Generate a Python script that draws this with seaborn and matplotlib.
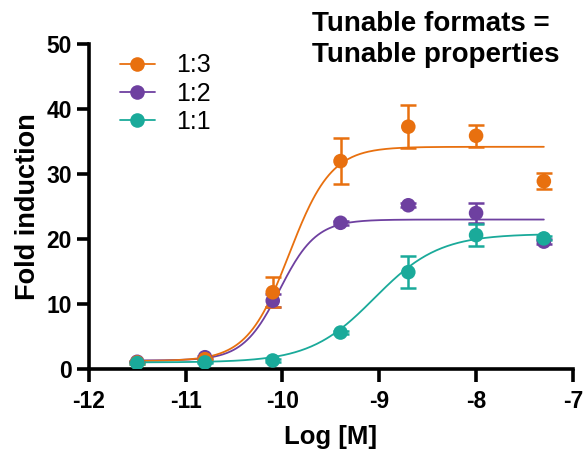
import numpy as np
import pandas as pd
import matplotlib
matplotlib.use('Agg')
import matplotlib.pyplot as plt
from matplotlib.lines import Line2D
import seaborn as sns

# log concentration of each dilution
log_conc = [-11.5, -10.8, -10.1, -9.4, -8.7, -8.0, -7.3]

# mean fold induction and error (SEM)
mean_13 = [1.0, 1.5, 11.8, 32.0, 37.3, 35.9, 28.9]
err_13 = [0.2, 0.2, 2.3, 3.6, 3.3, 1.7, 1.2]
mean_12 = [1.1, 1.8, 10.5, 22.5, 25.2, 24.0, 19.6]
err_12 = [0.1, 0.2, 1.0, 0.3, 0.3, 1.5, 0.4]
mean_11 = [0.9, 1.0, 1.3, 5.6, 14.9, 20.6, 20.1]
err_11 = [0.1, 0.1, 0.2, 0.3, 2.45, 1.65, 0.3]

# 4PL fit parameters (bottom, top, logEC50, hill)
fit_13 = [1.2, 34.2, -9.93, 2.0]
fit_12 = [1.3, 23.0, -10.03, 2.3]
fit_11 = [1.0, 20.8, -9.05, 1.3]

labels = ['1:3', '1:2', '1:1']
colors = {'1:3': '#E8700F', '1:2': '#6E40A0', '1:1': '#1AAA9A'}

def four_pl(x, bottom, top, logec50, hill):
    return bottom + (top - bottom) / (1 + 10 ** ((logec50 - x) * hill))

points = pd.DataFrame({
    'logM': log_conc * 3,
    'fold': mean_13 + mean_12 + mean_11,
    'err': err_13 + err_12 + err_11,
    'format': ['1:3'] * 7 + ['1:2'] * 7 + ['1:1'] * 7,
})

xfit = np.linspace(min(log_conc), max(log_conc), 300)
fits = {'1:3': fit_13, '1:2': fit_12, '1:1': fit_11}
curves = pd.concat([
    pd.DataFrame({'logM': xfit, 'fold': four_pl(xfit, *p), 'format': k})
    for k, p in fits.items()
])

sns.set_style('ticks')
plt.rcParams['font.family'] = ['Liberation Sans', 'DejaVu Sans']
plt.rcParams['axes.unicode_minus'] = False
plt.rcParams['text.color'] = 'black'
plt.rcParams['axes.labelcolor'] = 'black'
plt.rcParams['xtick.color'] = 'black'
plt.rcParams['ytick.color'] = 'black'
plt.rcParams['axes.edgecolor'] = 'black'

fig = plt.figure(figsize=(5.84, 4.51), dpi=100)
ax = fig.add_axes([0.152, 0.182, 0.829, 0.720])

# drawing order: purple, orange, teal (teal on top)
for z, key in enumerate(['1:2', '1:3', '1:1']):
    c = colors[key]
    sns.lineplot(data=curves[curves['format'] == key], x='logM', y='fold',
                 color=c, linewidth=1.3, ax=ax, zorder=2 + z)
    d = points[points['format'] == key]
    ax.errorbar(d['logM'], d['fold'], yerr=d['err'], fmt='none', ecolor=c,
                elinewidth=1.8, capsize=5.5, capthick=1.8, zorder=2 + z)
    sns.scatterplot(data=d, x='logM', y='fold', color=c, s=110,
                    edgecolor='none', ax=ax, zorder=5 + z)

ax.set_xlim(-12, -7)
ax.set_ylim(0, 50)
ax.set_xticks([-12, -11, -10, -9, -8, -7])
ax.set_yticks([0, 10, 20, 30, 40, 50])
sns.despine(ax=ax)
for s in ['left', 'bottom']:
    ax.spines[s].set_linewidth(2.6)
ax.tick_params(width=2.6, length=9, labelsize=16.5)
ax.tick_params(axis='x', pad=6)
ax.tick_params(axis='y', pad=3)
for t in ax.get_xticklabels() + ax.get_yticklabels():
    t.set_fontweight('bold')
ax.set_xlabel('Log [M]', fontsize=18.5, fontweight='bold', labelpad=9)
ax.set_ylabel('Fold induction', fontsize=19.5, fontweight='bold', labelpad=4)

handles = [Line2D([0], [0], color=colors[k], linewidth=1.3, marker='o',
                  markersize=10.5, markeredgewidth=0) for k in labels]
ax.legend(handles, labels, loc='upper left', bbox_to_anchor=(0.064, 0.972),
          frameon=False, fontsize=18, handlelength=1.4, handletextpad=0.85,
          labelspacing=0.17, borderaxespad=0, borderpad=0)

fig.text(0.534, 0.976, 'Tunable formats =\nTunable properties', ha='left',
         va='top', fontsize=20, fontweight='bold', linespacing=1.25)

fig.savefig('out.png', dpi=100)
